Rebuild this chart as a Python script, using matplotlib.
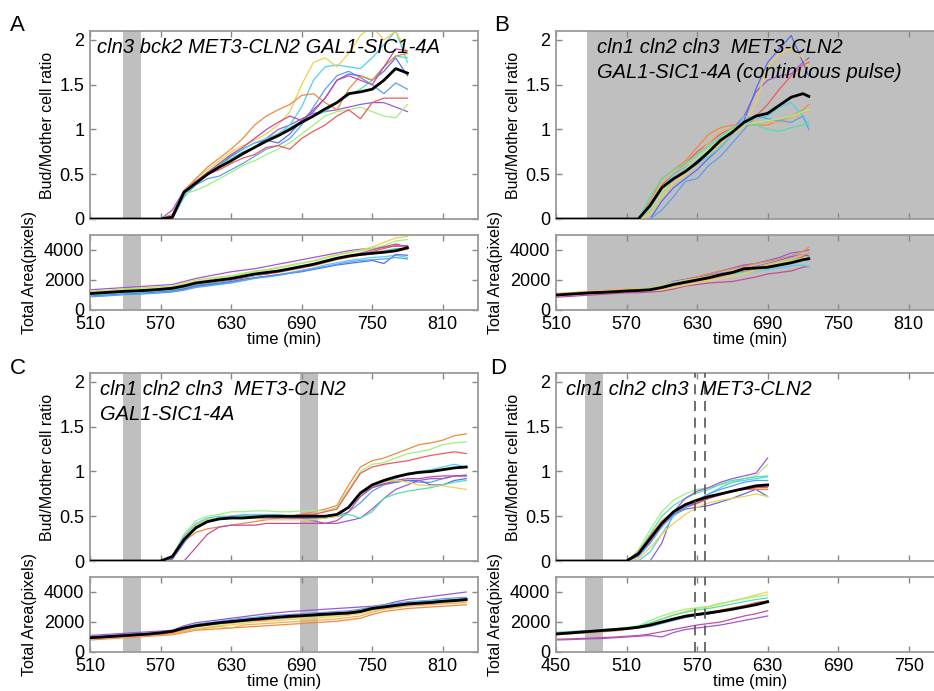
import matplotlib
matplotlib.use("Agg")
import matplotlib.pyplot as plt

plt.rcParams['font.family'] = ['Liberation Sans', 'DejaVu Sans']

# ---------------- DATA ----------------
# Panel A: cln3 bck2 MET3-CLN2 GAL1-SIC1-4A
tA = [510, 520, 530, 540, 550, 560, 570, 580, 590, 600, 610, 620, 630, 640, 650, 660,
      670, 680, 690, 700, 710, 720, 730, 740, 750, 760, 770, 780]
z7 = [0, 0, 0, 0, 0, 0, 0]
rA = {
    'purple':  z7 + [0.10, 0.32, 0.42, 0.50, 0.58, 0.65, 0.72, 0.80, 0.90, 1.00, 1.05, 1.12, 1.18, 1.20, 1.22, 1.25, 1.28, 1.30, 1.30, 1.25, 1.20],
    'blue':    z7 + [0.00, 0.25, 0.38, 0.45, 0.48, 0.55, 0.62, 0.70, 0.78, 0.82, 0.90, 1.05, 1.25, 1.45, 1.60, 1.65, 1.58, 1.50, 1.40, 1.52, 1.45],
    'royal':   z7 + [0.00, 0.28, 0.40, 0.50, 0.60, 0.70, 0.78, 0.85, 0.88, 0.85, 0.95, 1.10, 1.20, 1.35, 1.55, 1.62, 1.60, 1.55, 1.65, 1.80, 1.60],
    'cyan':    z7 + [0.00, 0.25, 0.40, 0.52, 0.62, 0.72, 0.78, 0.85, 0.90, 0.95, 1.05, 1.25, 1.55, 1.70, 1.72, 1.70, 1.68, 1.80, 1.95, 2.10, 1.75],
    'teal':    z7 + [0.05, 0.30, 0.42, 0.52, 0.60, 0.68, 0.75, 0.80, 0.88, 0.95, 1.02, 1.10, 1.15, 1.20, 1.30, 1.38, 1.45, 1.55, 1.70, 1.82, 1.80],
    'lgreen':  z7 + [0.05, 0.28, 0.32, 0.38, 0.45, 0.52, 0.60, 0.65, 0.72, 0.78, 0.85, 0.95, 1.05, 1.15, 1.20, 1.22, 1.25, 1.20, 1.15, 1.13, 1.28],
    'yellow':  z7 + [0.05, 0.30, 0.45, 0.55, 0.65, 0.75, 0.82, 0.88, 0.95, 1.05, 1.20, 1.50, 1.75, 1.80, 1.70, 1.85, 2.05, 2.15, 2.00, 2.10, 1.85],
    'orange':  z7 + [0.05, 0.32, 0.45, 0.58, 0.68, 0.78, 0.90, 1.05, 1.15, 1.22, 1.28, 1.38, 1.40, 1.30, 1.22, 1.45, 1.60, 1.55, 1.70, 1.82, 1.85],
    'red':     z7 + [0.00, 0.30, 0.42, 0.50, 0.55, 0.62, 0.68, 0.72, 0.80, 0.82, 0.78, 0.90, 0.98, 1.05, 1.15, 1.22, 1.12, 1.30, 1.35, 1.35, 1.35],
    'magenta': z7 + [0.00, 0.30, 0.42, 0.52, 0.62, 0.72, 0.80, 0.90, 1.00, 1.08, 1.15, 1.10, 1.22, 1.35, 1.55, 1.60, 1.55, 1.50, 1.70, 1.90, 1.88],
}
rA_mean = z7 + [0.02, 0.30, 0.40, 0.50, 0.58, 0.65, 0.73, 0.80, 0.87, 0.93, 1.00, 1.08, 1.15, 1.23, 1.30, 1.40, 1.42, 1.45, 1.55, 1.68, 1.63]
aA = {
    'purple':  [1350, 1400, 1450, 1500, 1550, 1600, 1650, 1700, 1900, 2100, 2250, 2400, 2550, 2650, 2750, 2900, 3050, 3200, 3350, 3500, 3650, 3800, 3950, 4050, 4100, 4200, 4250, 4300],
    'yellow':  [1250, 1300, 1350, 1400, 1450, 1500, 1550, 1600, 1800, 2000, 2100, 2200, 2300, 2450, 2600, 2700, 2850, 3000, 3150, 3300, 3500, 3700, 3850, 4000, 4200, 4500, 4800, 4900],
    'lgreen':  [1200, 1250, 1300, 1350, 1380, 1420, 1480, 1550, 1700, 1900, 2000, 2150, 2250, 2400, 2550, 2650, 2800, 2950, 3100, 3250, 3450, 3650, 3800, 3950, 4100, 4300, 4600, 4700],
    'orange':  [1000, 1050, 1100, 1150, 1180, 1220, 1280, 1350, 1500, 1700, 1800, 1900, 2000, 2150, 2300, 2400, 2500, 2650, 2800, 2950, 3150, 3350, 3500, 3650, 3750, 3850, 3900, 4050],
    'red':     [1050, 1100, 1150, 1200, 1230, 1270, 1320, 1400, 1550, 1750, 1850, 1950, 2050, 2200, 2350, 2450, 2550, 2700, 2850, 3000, 3200, 3400, 3550, 3700, 3900, 4100, 4300, 4250],
    'magenta': [950, 1000, 1050, 1100, 1130, 1170, 1220, 1300, 1450, 1650, 1750, 1900, 2000, 2150, 2300, 2400, 2550, 2700, 2850, 3000, 3200, 3400, 3600, 3800, 4000, 4200, 4400, 4200],
    'cyan':    [900, 950, 1000, 1050, 1080, 1120, 1170, 1230, 1350, 1550, 1650, 1750, 1850, 2000, 2150, 2250, 2350, 2500, 2650, 2800, 3000, 3150, 3300, 3400, 3500, 3550, 3650, 3500],
    'royal':   [950, 1000, 1050, 1100, 1130, 1170, 1220, 1280, 1400, 1600, 1700, 1800, 1900, 2050, 2150, 2250, 2350, 2450, 2550, 2700, 2850, 3000, 3100, 3200, 3300, 3100, 3700, 3650],
    'blue':    [880, 920, 970, 1020, 1050, 1090, 1140, 1200, 1320, 1500, 1600, 1700, 1800, 1950, 2100, 2200, 2300, 2450, 2600, 2750, 2900, 3050, 3200, 3300, 3350, 3400, 3500, 3400],
    'teal':    [1000, 1050, 1100, 1150, 1180, 1220, 1280, 1350, 1500, 1700, 1800, 1900, 2050, 2200, 2300, 2450, 2600, 2750, 2900, 3050, 3250, 3450, 3600, 3750, 3850, 3950, 4100, 4100],
}
aA_mean = [1100, 1150, 1200, 1250, 1280, 1320, 1380, 1450, 1600, 1800, 1900, 2000, 2100, 2250, 2400, 2500, 2600, 2750, 2900, 3050, 3250, 3450, 3600, 3700, 3780, 3850, 3950, 4150]

# Panel B: cln1 cln2 cln3 MET3-CLN2 GAL1-SIC1-4A (continuous pulse)
tB = [510, 520, 530, 540, 550, 560, 570, 580, 590, 600, 610, 620, 630, 640, 650, 660,
      670, 680, 690, 700, 710, 720, 725]
rB = {
    'purple':  z7 + [0.00, 0.10, 0.35, 0.45, 0.55, 0.65, 0.75, 0.85, 1.00, 1.15, 1.42, 1.55, 1.60, 1.62, 1.75, 1.80],
    'royal':   z7 + [0.00, 0.00, 0.20, 0.35, 0.45, 0.55, 0.68, 0.80, 0.95, 1.10, 1.45, 1.75, 1.90, 2.05, 1.75, 1.60],
    'yellow':  z7 + [0.00, 0.05, 0.25, 0.40, 0.50, 0.62, 0.72, 0.85, 0.95, 1.05, 1.30, 1.70, 1.85, 1.90, 1.80, 1.70],
    'red':     z7 + [0.00, 0.15, 0.38, 0.50, 0.62, 0.75, 0.85, 0.95, 1.02, 1.08, 1.15, 1.28, 1.45, 1.60, 1.72, 1.75],
    'orange':  z7 + [0.00, 0.20, 0.45, 0.55, 0.65, 0.80, 0.95, 1.02, 1.05, 1.05, 1.05, 1.05, 1.10, 1.15, 1.22, 1.28],
    'lorange': z7 + [0.00, 0.15, 0.40, 0.52, 0.60, 0.72, 0.85, 0.98, 1.02, 1.05, 1.10, 1.08, 1.08, 1.12, 1.18, 1.22],
    'cyan':    z7 + [0.00, 0.10, 0.35, 0.50, 0.58, 0.62, 0.70, 0.80, 0.95, 1.15, 1.12, 1.15, 1.25, 1.30, 1.15, 1.05],
    'blue':    z7 + [0.00, 0.00, 0.10, 0.25, 0.42, 0.45, 0.60, 0.70, 0.85, 1.00, 1.15, 1.12, 1.10, 1.08, 1.15, 1.00],
    'teal':    z7 + [0.00, 0.25, 0.45, 0.55, 0.62, 0.72, 0.82, 0.92, 1.02, 1.08, 1.05, 1.00, 0.98, 1.02, 1.05, 1.08],
    'lgreen':  z7 + [0.00, 0.10, 0.30, 0.45, 0.55, 0.68, 0.78, 0.90, 1.00, 1.05, 1.08, 1.10, 1.12, 1.15, 1.20, 1.22],
}
rB_mean = z7 + [0.00, 0.15, 0.35, 0.45, 0.53, 0.63, 0.75, 0.88, 0.97, 1.08, 1.15, 1.18, 1.27, 1.36, 1.40, 1.37]
aB = {
    'magenta': [850, 900, 950, 1000, 1050, 1100, 1150, 1150, 1200, 1250, 1400, 1600, 1700, 1800, 1850, 1900, 2050, 2200, 2400, 2500, 2600, 2850, 2900],
    'purple':  [1000, 1050, 1100, 1150, 1200, 1250, 1300, 1350, 1400, 1600, 1900, 2050, 2200, 2400, 2600, 2800, 3000, 3100, 3300, 3500, 3800, 3900, 4000],
    'orange':  [1050, 1100, 1150, 1200, 1250, 1300, 1350, 1400, 1450, 1600, 1800, 2000, 2200, 2400, 2600, 2750, 2900, 3100, 3250, 3400, 3600, 3900, 4200],
    'red':     [950, 1000, 1050, 1100, 1150, 1200, 1250, 1300, 1350, 1450, 1650, 1800, 1950, 2100, 2250, 2450, 2600, 2750, 2950, 3100, 3300, 3550, 3800],
    'royal':   [1000, 1050, 1100, 1150, 1200, 1250, 1300, 1320, 1380, 1550, 1750, 1900, 2100, 2300, 2450, 2550, 2700, 2900, 3100, 3300, 3550, 3700, 3600],
    'cyan':    [950, 1000, 1050, 1100, 1150, 1200, 1250, 1280, 1350, 1500, 1700, 1850, 2000, 2150, 2350, 2450, 2500, 2600, 2700, 2800, 2950, 3000, 2900],
    'yellow':  [1000, 1050, 1100, 1150, 1200, 1250, 1300, 1300, 1300, 1350, 1500, 1650, 1800, 1950, 2100, 2250, 2450, 2650, 2850, 3050, 3250, 3450, 3500],
    'lgreen':  [1050, 1100, 1150, 1200, 1250, 1300, 1350, 1400, 1450, 1650, 1850, 2000, 2100, 2250, 2400, 2550, 2700, 2850, 3000, 3150, 3300, 3450, 3500],
    'lorange': [1100, 1150, 1200, 1250, 1300, 1350, 1400, 1420, 1450, 1600, 1800, 1950, 2100, 2250, 2400, 2550, 2700, 2850, 3050, 3250, 3450, 3700, 3800],
    'teal':    [1000, 1050, 1100, 1150, 1200, 1250, 1300, 1350, 1400, 1550, 1750, 1900, 2050, 2200, 2350, 2500, 2650, 2800, 2900, 3000, 3150, 3300, 3350],
}
aB_mean = [1000, 1050, 1100, 1150, 1180, 1220, 1270, 1300, 1350, 1500, 1700, 1850, 2000, 2150, 2350, 2500, 2750, 2800, 2850, 3000, 3150, 3350, 3420]

# Panel C: cln1 cln2 cln3 MET3-CLN2 GAL1-SIC1-4A (two pulses)
tC = [510, 520, 530, 540, 550, 560, 570, 580, 590, 600, 610, 620, 630, 640, 650, 660, 670,
      680, 690, 700, 710, 720, 730, 740, 750, 760, 770, 780, 790, 800, 810, 820, 830]
rC = {
    'orange':  z7 + [0.05, 0.22, 0.32, 0.36, 0.38, 0.40, 0.42, 0.44, 0.46, 0.48, 0.50, 0.52, 0.55, 0.58, 0.62, 0.85, 1.05, 1.12, 1.15, 1.20, 1.25, 1.30, 1.32, 1.35, 1.40, 1.42],
    'lgreen':  z7 + [0.05, 0.30, 0.45, 0.50, 0.52, 0.55, 0.55, 0.56, 0.56, 0.55, 0.55, 0.56, 0.56, 0.56, 0.60, 0.80, 1.00, 1.08, 1.10, 1.15, 1.20, 1.22, 1.25, 1.30, 1.32, 1.33],
    'red':     z7 + [0.05, 0.25, 0.38, 0.44, 0.48, 0.50, 0.50, 0.50, 0.50, 0.50, 0.50, 0.52, 0.52, 0.55, 0.58, 0.78, 0.98, 1.05, 1.08, 1.10, 1.12, 1.15, 1.18, 1.20, 1.22, 1.20],
    'cyan':    z7 + [0.05, 0.28, 0.42, 0.48, 0.50, 0.50, 0.52, 0.52, 0.52, 0.52, 0.50, 0.50, 0.50, 0.50, 0.52, 0.60, 0.72, 0.82, 0.88, 0.92, 0.98, 1.00, 1.02, 1.05, 1.08, 1.05],
    'blue':    z7 + [0.02, 0.20, 0.38, 0.45, 0.48, 0.50, 0.50, 0.50, 0.50, 0.50, 0.50, 0.50, 0.50, 0.50, 0.50, 0.55, 0.65, 0.78, 0.85, 0.88, 0.90, 0.88, 0.88, 0.92, 0.95, 0.95],
    'royal':   z7 + [0.03, 0.25, 0.40, 0.46, 0.48, 0.48, 0.48, 0.48, 0.50, 0.50, 0.48, 0.48, 0.48, 0.48, 0.50, 0.60, 0.75, 0.82, 0.86, 0.88, 0.90, 0.90, 0.85, 0.85, 0.90, 0.92],
    'purple':  z7 + [0.02, 0.22, 0.38, 0.45, 0.48, 0.48, 0.48, 0.48, 0.48, 0.48, 0.48, 0.48, 0.45, 0.42, 0.42, 0.45, 0.48, 0.58, 0.70, 0.80, 0.85, 0.90, 0.92, 0.92, 0.95, 0.95],
    'magenta': z7 + [0.00, 0.00, 0.15, 0.30, 0.38, 0.40, 0.40, 0.40, 0.42, 0.42, 0.42, 0.42, 0.42, 0.42, 0.45, 0.55, 0.72, 0.82, 0.86, 0.90, 0.92, 0.92, 0.94, 0.95, 0.95, 0.96],
    'teal':    z7 + [0.04, 0.25, 0.40, 0.46, 0.48, 0.48, 0.50, 0.50, 0.50, 0.50, 0.50, 0.50, 0.50, 0.50, 0.50, 0.52, 0.48, 0.55, 0.70, 0.75, 0.78, 0.80, 0.82, 0.85, 0.88, 0.90],
    'yellow':  z7 + [0.04, 0.26, 0.40, 0.46, 0.48, 0.48, 0.48, 0.48, 0.46, 0.46, 0.46, 0.46, 0.46, 0.48, 0.50, 0.60, 0.75, 0.85, 0.88, 0.90, 0.88, 0.85, 0.84, 0.84, 0.82, 0.80],
}
rC_mean = z7 + [0.05, 0.24, 0.37, 0.44, 0.47, 0.48, 0.48, 0.49, 0.50, 0.50, 0.50, 0.50, 0.50, 0.50, 0.52, 0.60, 0.76, 0.85, 0.90, 0.94, 0.97, 0.99, 1.00, 1.02, 1.04, 1.05]
aC = {
    'purple':  [1100, 1150, 1200, 1250, 1300, 1350, 1400, 1450, 1750, 1950, 2050, 2150, 2250, 2350, 2450, 2550, 2620, 2700, 2750, 2800, 2850, 2900, 2950, 3000, 3050, 3150, 3350, 3500, 3600, 3700, 3800, 3900, 4000],
    'blue':    [1000, 1050, 1100, 1150, 1200, 1250, 1300, 1400, 1650, 1850, 1950, 2050, 2150, 2250, 2300, 2400, 2450, 2500, 2550, 2600, 2650, 2700, 2750, 2850, 3000, 3150, 3250, 3350, 3400, 3450, 3550, 3600, 3650],
    'cyan':    [950, 1000, 1050, 1100, 1150, 1200, 1270, 1350, 1600, 1800, 1900, 2000, 2100, 2200, 2250, 2300, 2350, 2400, 2450, 2500, 2550, 2600, 2650, 2750, 2950, 3100, 3200, 3300, 3350, 3400, 3450, 3500, 3550],
    'teal':    [920, 970, 1020, 1070, 1120, 1170, 1240, 1320, 1550, 1750, 1850, 1950, 2050, 2150, 2200, 2250, 2300, 2350, 2400, 2450, 2500, 2550, 2600, 2700, 2900, 3050, 3150, 3250, 3300, 3350, 3400, 3450, 3500],
    'lgreen':  [900, 950, 1000, 1050, 1100, 1150, 1200, 1280, 1450, 1650, 1750, 1850, 1900, 2000, 2100, 2150, 2200, 2250, 2300, 2350, 2400, 2450, 2500, 2600, 2800, 2950, 3050, 3150, 3200, 3250, 3300, 3350, 3400],
    'yellow':  [880, 930, 980, 1030, 1080, 1130, 1180, 1250, 1400, 1550, 1650, 1750, 1800, 1900, 2000, 2050, 2100, 2150, 2200, 2250, 2300, 2350, 2450, 2550, 2750, 2900, 3000, 3100, 3150, 3200, 3250, 3300, 3350],
    'orange':  [800, 850, 900, 950, 1000, 1050, 1100, 1150, 1300, 1450, 1500, 1550, 1600, 1650, 1700, 1750, 1800, 1850, 1900, 1950, 2000, 2050, 2150, 2250, 2500, 2700, 2800, 2900, 2950, 3000, 3050, 3100, 3150],
    'lorange': [850, 900, 950, 1000, 1050, 1100, 1150, 1200, 1350, 1500, 1600, 1700, 1600, 1800, 1850, 1900, 1950, 2000, 2050, 2100, 2150, 2200, 2300, 2400, 2650, 2850, 2950, 3050, 3100, 3150, 3200, 3250, 3300],
    'red':     [900, 950, 1000, 1050, 1100, 1150, 1200, 1300, 1500, 1700, 1800, 1900, 1950, 2050, 2100, 2150, 2250, 2300, 2350, 2400, 2450, 2500, 2550, 2650, 2900, 3000, 3100, 3200, 3250, 3300, 3350, 3400, 3450],
    'magenta': [950, 1000, 1050, 1100, 1150, 1200, 1250, 1350, 1550, 1750, 1850, 1950, 2050, 2150, 2200, 2250, 2350, 2400, 2450, 2500, 2550, 2600, 2650, 2750, 2950, 3050, 3150, 3250, 3300, 3350, 3400, 3450, 3500],
}
aC_mean = [950, 1000, 1050, 1100, 1150, 1200, 1280, 1380, 1600, 1750, 1850, 1950, 2030, 2100, 2180, 2250, 2320, 2380, 2420, 2470, 2520, 2560, 2600, 2700, 2900, 3000, 3100, 3200, 3250, 3300, 3380, 3430, 3500]

# Panel D: cln1 cln2 cln3 MET3-CLN2
tD = [450, 460, 470, 480, 490, 500, 510, 520, 530, 540, 550, 560, 570, 580, 590, 600, 610, 620, 630]
rD = {
    'lgreen':  z7 + [0.12, 0.35, 0.55, 0.68, 0.75, 0.80, 0.82, 0.85, 0.88, 0.92, 0.95, 1.08],
    'teal':    z7 + [0.10, 0.30, 0.50, 0.62, 0.70, 0.76, 0.80, 0.86, 0.90, 0.92, 0.94, 0.95],
    'purple':  z7 + [0.00, 0.00, 0.20, 0.55, 0.70, 0.78, 0.82, 0.88, 0.92, 0.95, 0.98, 1.15],
    'cyan':    z7 + [0.00, 0.10, 0.30, 0.50, 0.60, 0.68, 0.75, 0.82, 0.88, 0.90, 0.92, 0.94],
    'royal':   z7 + [0.05, 0.20, 0.40, 0.52, 0.58, 0.60, 0.62, 0.66, 0.70, 0.75, 0.80, 0.72],
    'yellow':  z7 + [0.02, 0.15, 0.30, 0.42, 0.52, 0.60, 0.65, 0.68, 0.70, 0.72, 0.75, 0.72],
    'orange':  z7 + [0.10, 0.28, 0.45, 0.55, 0.60, 0.64, 0.70, 0.75, 0.78, 0.80, 0.80, 0.80],
    'red':     z7 + [0.08, 0.25, 0.42, 0.55, 0.62, 0.66, 0.70, 0.74, 0.78, 0.80, 0.82, 0.82],
    'magenta': z7 + [0.06, 0.22, 0.40, 0.52, 0.60, 0.65, 0.70, 0.74, 0.78, 0.80, 0.82, 0.84],
    'blue':    z7 + [0.05, 0.20, 0.38, 0.52, 0.60, 0.68, 0.75, 0.80, 0.84, 0.88, 0.90, 0.90],
}
rD_mean = z7 + [0.08, 0.25, 0.42, 0.55, 0.63, 0.68, 0.72, 0.75, 0.78, 0.81, 0.84, 0.85]
aD = {
    'purple':  [800, 820, 850, 880, 900, 950, 1000, 1050, 1100, 1000, 1300, 1500, 1600, 1700, 1800, 1950, 2100, 2250, 2400],
    'magenta': [850, 870, 900, 930, 960, 1000, 1050, 1100, 1200, 1350, 1500, 1650, 1800, 1900, 2000, 2200, 2400, 2550, 2750],
    'yellow':  [1250, 1300, 1350, 1400, 1450, 1500, 1600, 1700, 1900, 2200, 2500, 2700, 2900, 3000, 3200, 3400, 3600, 3800, 4000],
    'lgreen':  [1300, 1350, 1400, 1450, 1500, 1550, 1650, 1750, 2100, 2400, 2650, 2850, 2950, 3050, 3250, 3400, 3550, 3700, 3800],
    'teal':    [1250, 1300, 1350, 1400, 1450, 1500, 1600, 1700, 1950, 2200, 2450, 2650, 2800, 2900, 3050, 3200, 3350, 3500, 3600],
    'cyan':    [1300, 1350, 1400, 1450, 1500, 1550, 1600, 1650, 1750, 1950, 2150, 2350, 2450, 2550, 2700, 2850, 3000, 3150, 3300],
    'blue':    [1250, 1300, 1350, 1400, 1450, 1500, 1550, 1600, 1700, 1900, 2100, 2300, 2450, 2550, 2700, 2850, 3000, 3150, 3350],
    'orange':  [1150, 1200, 1250, 1300, 1350, 1400, 1500, 1600, 1800, 2000, 2250, 2450, 2550, 2650, 2800, 2950, 3100, 3250, 3400],
    'red':     [1200, 1250, 1300, 1350, 1400, 1450, 1550, 1650, 1800, 2000, 2200, 2400, 2500, 2650, 2750, 2900, 3050, 3300, 3400],
}
aD_mean = [1200, 1260, 1320, 1380, 1440, 1500, 1560, 1650, 1800, 2000, 2200, 2380, 2500, 2600, 2720, 2850, 3000, 3150, 3350]

colors = {
    'purple': '#9a5ad8', 'royal': '#5a6cf0', 'blue': '#5aa0f0', 'cyan': '#50d0f0',
    'teal': '#50e0b0', 'lgreen': '#a0f080', 'yellow': '#f0d050', 'lorange': '#f0b060',
    'orange': '#f08a40', 'red': '#f05a5a', 'magenta': '#c84a9c',
}

panels = [
    dict(letter='A', t=tA, r=rA, rm=rA_mean, a=aA, am=aA_mean, xlim=(510, 840),
         xticks=[510, 570, 630, 690, 750, 810], shade=[(538, 553)], dashed=[],
         title=['cln3 bck2 MET3-CLN2 GAL1-SIC1-4A'], col=0, row=0, tx=0.018),
    dict(letter='B', t=tB, r=rB, rm=rB_mean, a=aB, am=aB_mean, xlim=(510, 840),
         xticks=[510, 570, 630, 690, 750, 810], shade=[(536, 900)], dashed=[],
         title=['cln1 cln2 cln3  MET3-CLN2', 'GAL1-SIC1-4A (continuous pulse)'], col=1, row=0, tx=0.105),
    dict(letter='C', t=tC, r=rC, rm=rC_mean, a=aC, am=aC_mean, xlim=(510, 840),
         xticks=[510, 570, 630, 690, 750, 810], shade=[(538, 553), (689, 704)], dashed=[],
         title=['cln1 cln2 cln3  MET3-CLN2', 'GAL1-SIC1-4A'], col=0, row=1, tx=0.025),
    dict(letter='D', t=tD, r=rD, rm=rD_mean, a=aD, am=aD_mean, xlim=(450, 780),
         xticks=[450, 510, 570, 630, 690, 750], shade=[(475, 490)], dashed=[568, 577],
         title=['cln1 cln2 cln3  MET3-CLN2'], col=1, row=1, tx=0.025),
]

# ---------------- FIGURE ----------------
W, H = 934, 691
fig = plt.figure(figsize=(W / 100, H / 100), dpi=100)
spine_col = '#9a9a9a'
shade_col = '#bfbfbf'

def px_axes(left, top, width, height):
    return fig.add_axes([left / W, 1 - (top + height) / H, width / W, height / H])

lefts = [90, 556]
tops_top = [31, 373]
tops_bot = [235, 577]
letter_pos = [(10, 15), (494, 15), (10, 358), (490, 358)]

for i, p in enumerate(panels):
    L = lefts[p['col']]
    axt = px_axes(L, tops_top[p['row']], 388, 188)
    axb = px_axes(L, tops_bot[p['row']], 388, 75)
    for ax, data, mean, ylim in [(axt, p['r'], p['rm'], (0, 2.1)), (axb, p['a'], p['am'], (0, 5000))]:
        for s0, s1 in p['shade']:
            ax.axvspan(s0, s1, color=shade_col, lw=0, zorder=0)
        for name, vals in data.items():
            ax.plot(p['t'], vals, color=colors[name], lw=0.9, zorder=2)
        ax.plot(p['t'], mean, color='black', lw=2.0, zorder=3)
        for xd in p['dashed']:
            ax.axvline(xd, color='#555555', lw=1.2, dashes=(6, 4), zorder=4)
        ax.set_xlim(*p['xlim'])
        ax.set_ylim(*ylim)
        ax.set_xticks(p['xticks'])
        ax.tick_params(direction='in', top=True, right=True, length=4, width=1,
                       color='#888888', labelsize=13, pad=4)
        for sp in ax.spines.values():
            sp.set_color(spine_col)
            sp.set_linewidth(1.3)
    axt.set_yticks([0, 0.5, 1, 1.5, 2])
    axt.set_yticklabels(['0', '0.5', '1', '1.5', '2'])
    axt.tick_params(labelbottom=False)
    axb.set_yticks([0, 2000, 4000])
    axb.set_xticklabels([str(v) for v in p['xticks']])
    axt.set_ylabel('Bud/Mother cell ratio', fontsize=11.5)
    axt.yaxis.set_label_coords(-0.09, 0.5)
    axb.set_ylabel('Total Area(pixels)', fontsize=11.5)
    axb.yaxis.set_label_coords(-0.137, 0.5)
    axb.set_xlabel('time (min)', fontsize=12)
    axb.xaxis.set_label_coords(0.5, -0.29)
    for k, line in enumerate(p['title']):
        axt.text(p['tx'], 0.965 - k * 0.135, line, transform=axt.transAxes,
                 fontsize=14.5, style='italic', va='top', ha='left', zorder=5)
    lx, ly = letter_pos[i]
    fig.text(lx / W, 1 - ly / H, p['letter'], fontsize=16, va='top', ha='left')

fig.savefig('out.png', dpi=100)
